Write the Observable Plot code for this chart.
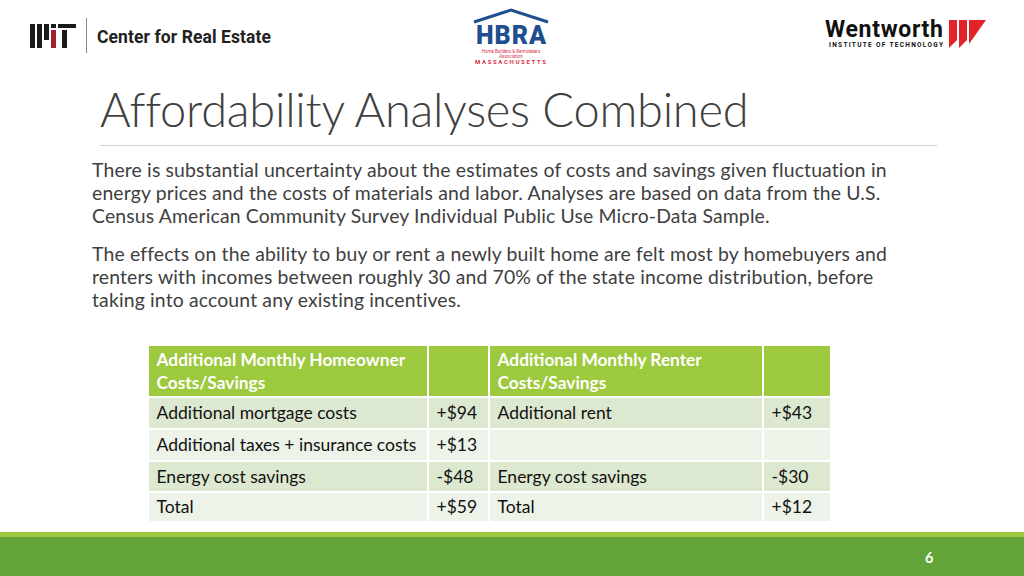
<!DOCTYPE html>
<html><head><meta charset="utf-8">
<script src="https://cdn.jsdelivr.net/npm/d3@7"></script>
<script src="https://cdn.jsdelivr.net/npm/@observablehq/plot@0.6"></script>
<style>
html,body{margin:0;padding:0;background:#fff;}
#slide{position:relative;width:1024px;height:576px;overflow:hidden;background:#fff;font-family:Lato,"Open Sans",sans-serif;color:#404040;}
.abs{position:absolute;}
#title{left:100px;top:81px;font-family:Lato;font-weight:300;font-size:47px;color:#404040;white-space:nowrap;letter-spacing:-0.25px;}
#rule{left:100px;top:145px;width:837px;height:1px;background:#d0d0d0;}
.para{left:92px;font-size:19.4px;line-height:23px;white-space:nowrap;color:#404040;letter-spacing:0.15px;}
#footer1{left:0;top:532px;width:1024px;height:5px;background:#9cc93d;}
#footer2{left:0;top:537px;width:1024px;height:39px;background:#62a438;}
#pnum{left:925px;top:549px;font-size:14.5px;font-weight:bold;color:#fff;font-family:Lato;}
#table{left:148px;top:345px;}
</style></head>
<body><div id="slide">
<svg class="abs" style="left:0;top:0" width="1024" height="80">
  <!-- MIT logo -->
  <g fill="#1a1a1a">
    <rect x="30" y="24" width="5" height="24"/>
    <rect x="37" y="24" width="5" height="24"/>
    <rect x="44" y="24" width="5" height="16"/>
    <rect x="51" y="30" width="5" height="18" fill="#a31f34"/>
    <rect x="51" y="24" width="5" height="4"/>
    <rect x="58" y="24" width="18" height="4"/>
    <rect x="62" y="30" width="5" height="18"/>
  </g>
  <rect x="86" y="18" width="1" height="35" fill="#888"/>
  <text x="97" y="43" font-family="Roboto" font-weight="bold" font-size="17.5" fill="#222" textLength="174">Center for Real Estate</text>
  <!-- HBRA -->
  <polyline points="474,22 511,10 548,22" fill="none" stroke="#1f4f8f" stroke-width="3"/>
  <text x="511" y="43.5" text-anchor="middle" font-family="Roboto" font-weight="900" font-size="25" fill="#1f4f8f" textLength="70">HBRA</text>
  <text x="511" y="52.5" text-anchor="middle" font-family="Roboto" font-size="4.5" fill="#d8304a">Home Builders &amp; Remodelers</text>
  <text x="511" y="57.5" text-anchor="middle" font-family="Roboto" font-size="4.5" fill="#d8304a">Association</text>
  <text x="511" y="64" text-anchor="middle" font-family="Roboto" font-weight="bold" font-size="6" fill="#d8304a" textLength="72" letter-spacing="1">MASSACHUSETTS</text>
  <!-- Wentworth -->
  <text x="825" y="37" font-family="Roboto" font-weight="bold" font-size="23" fill="#111" textLength="118">Wentworth</text>
  <text x="829" y="47" font-family="Roboto" font-weight="bold" font-size="6.5" fill="#111" textLength="114">INSTITUTE OF TECHNOLOGY</text>
  <polygon points="949,20 957,20 957,40 949,48" fill="#e2232a"/>
  <polygon points="959,20 967,20 967,40 959,48" fill="#e2232a"/>
  <polygon points="969,20 986,20 969,44" fill="#e2232a"/>
</svg>
<div id="title" class="abs">Affordability Analyses Combined</div>
<div id="rule" class="abs"></div>
<div id="p1" class="abs para" style="top:158px"></div>
<div id="p2" class="abs para" style="top:242px"></div>
<div id="table" class="abs"></div>
<div id="footer1" class="abs"></div>
<div id="footer2" class="abs"></div>
<div id="pnum" class="abs">6</div>
</div>
<script>
// ---- text content ----
const para1 = [
  "There is substantial uncertainty about the estimates of costs and savings given fluctuation in",
  "energy prices and the costs of materials and labor.  Analyses are based on data from the U.S.",
  "Census American Community Survey Individual Public Use Micro-Data Sample."
];
const para2 = [
  "The effects on the ability to buy or rent a newly built home are felt most by homebuyers and",
  "renters with incomes between roughly 30 and 70% of the state income distribution, before",
  "taking into account any existing incentives."
];
// ---- table data ----
const headers = ["Additional Monthly Homeowner\nCosts/Savings", "", "Additional Monthly Renter\nCosts/Savings", ""];
const ownerItems = ["Additional mortgage costs", "Additional taxes + insurance costs", "Energy cost savings", "Total"];
const ownerValues = ["+$94", "+$13", "-$48", "+$59"];
const renterItems = ["Additional rent", "", "Energy cost savings", "Total"];
const renterValues = ["+$43", "", "-$30", "+$12"];

document.getElementById("p1").innerHTML = para1.join("<br>");
document.getElementById("p2").innerHTML = para2.join("<br>");

// layout (pixels)
const colEdges = [0, 280, 341, 615, 683];
const rowEdges = [0, 52, 84, 116, 147, 177];
const W = 683, H = 177;

const cells = [];
headers.forEach((h, c) => cells.push({c, r: 0, text: h}));
ownerItems.forEach((t, i) => {
  cells.push({c: 0, r: i + 1, text: t});
  cells.push({c: 1, r: i + 1, text: ownerValues[i]});
  cells.push({c: 2, r: i + 1, text: renterItems[i]});
  cells.push({c: 3, r: i + 1, text: renterValues[i]});
});
cells.forEach(d => {
  d.x1 = colEdges[d.c]; d.x2 = colEdges[d.c + 1];
  d.y1 = rowEdges[d.r]; d.y2 = rowEdges[d.r + 1];
  d.fill = d.r === 0 ? "#9cc93d" : (d.r % 2 === 1 ? "#dde8d0" : "#edf3e8");
});

const chart = Plot.plot({
  width: W, height: H,
  margin: 0,
  x: {domain: [0, W], range: [0, W], axis: null},
  y: {domain: [0, H], range: [0, H], axis: null},
  style: {background: "transparent"},
  marks: [
    Plot.rect(cells, {x1: "x1", x2: "x2", y1: "y1", y2: "y2", fill: d => d.fill, stroke: "#fff", strokeWidth: 2}),
    Plot.text(cells.filter(d => d.r === 0), {
      x: d => d.x1 + 8, y: d => d.y1 + 4, text: "text", textAnchor: "start", lineAnchor: "top",
      lineHeight: 1.32, fill: "#fff", fontWeight: "bold", fontSize: 17.3, fontFamily: "Lato"
    }),
    Plot.text(cells.filter(d => d.r > 0), {
      x: d => d.x1 + 8, y: d => (d.y1 + d.y2) / 2, text: "text", textAnchor: "start", lineAnchor: "middle",
      fill: "#111", fontSize: 17.5, fontFamily: "Lato"
    })
  ]
});
document.getElementById("table").appendChild(chart);
</script>
</body></html>
